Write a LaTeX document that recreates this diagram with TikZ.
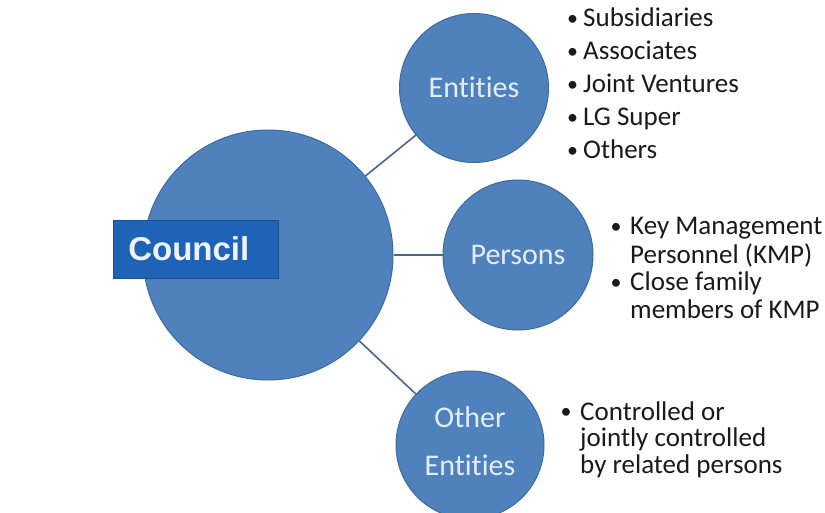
\documentclass[tikz,border=0pt]{standalone}
\usepackage{fontspec}
\setmainfont[Ligatures={NoCommon}]{Carlito}
\newfontfamily\headfont{Liberation Sans}
\definecolor{ballfill}{HTML}{4F81BD}
\definecolor{balledge}{HTML}{3D6B9E}
\definecolor{linkcol}{HTML}{4A6585}
\definecolor{boxfill}{HTML}{1F63B6}
\definecolor{balltext}{HTML}{E4EEFA}
\definecolor{listtext}{HTML}{1A1A1A}
% bullet of a list item: column width, offset of the dot
\newcommand{\bul}[2]{\makebox[#1][l]{\hspace{#2}\raisebox{1.5pt}{\fontsize{22}{22}\selectfont•}}}
\begin{document}
\begin{tikzpicture}[x=1pt,y=-1pt,
  ball/.style={circle,fill=ballfill,draw=balledge,line width=1pt,inner sep=0pt},
  link/.style={draw=linkcol,line width=1.6pt},
  balllabel/.style={text=balltext,font=\fontsize{30}{36}\selectfont,anchor=base,inner sep=0pt},
  itemlist/.style={anchor=base west,inner sep=0pt,text=listtext},
  tag/.style={fill=boxfill,draw=boxfill!80!black,line width=0.6pt,text=white!92!boxfill,
    font=\headfont\bfseries\fontsize{33}{36}\selectfont,minimum height=58pt,
    inner xsep=15pt,inner ysep=0pt,text width=135pt,align=left,anchor=west}]
\useasboundingbox[fill=white] (0,0) rectangle (825,513);
\clip (0,0) rectangle (825,513);

% circles
\node[ball,minimum size=250pt] (council) at (268,255) {};
\node[ball,minimum size=149pt] (entities) at (474,88) {};
\node[ball,minimum size=150pt] (persons) at (518,255) {};
\node[ball,minimum size=148pt] (other) at (470,445) {};

% connectors between the hub and the three satellites
\draw[link] (council) -- (entities);
\draw[link] (council) -- (persons);
\draw[link] (council) -- (other);

% circle captions
\node[balllabel] (entitiestext) at (474,98) {Entities};
\node[balllabel] (personstext) at (518,265) {Persons};
\node[balllabel] (othertext1) at (470,427) {Other};
\node[balllabel] (othertext2) at (470,475) {Entities};

% hub label
\node[tag] (counciltag) at (113,249) {Council};

% item lists
\node[itemlist,font=\fontsize{27}{33}\selectfont] (entlist) at (565,27)
  {\begin{tabular}[t]{@{}l@{}l@{}}
   \bul{18pt}{2pt} & Subsidiaries\\
   \bul{18pt}{2pt} & Associates\\
   \bul{18pt}{2pt} & Joint Ventures\\
   \bul{18pt}{2pt} & LG Super\\
   \bul{18pt}{2pt} & Others
   \end{tabular}};
\node[itemlist,font=\fontsize{27}{27.7}\selectfont] (perlist) at (608.5,235)
  {\begin{tabular}[t]{@{}l@{}l@{}}
   \bul{21.5pt}{2pt} & Key Management\\
     & Personnel (KMP)\\
   \bul{21.5pt}{2pt} & Close family\\
     & members of KMP
   \end{tabular}};
\node[itemlist,font=\fontsize{27}{26.5}\selectfont] (othlist) at (558.5,420)
  {\begin{tabular}[t]{@{}l@{}l@{}}
   \bul{21.5pt}{2pt} & Controlled or\\
     & jointly controlled\\
     & by related persons
   \end{tabular}};
\end{tikzpicture}
\end{document}
